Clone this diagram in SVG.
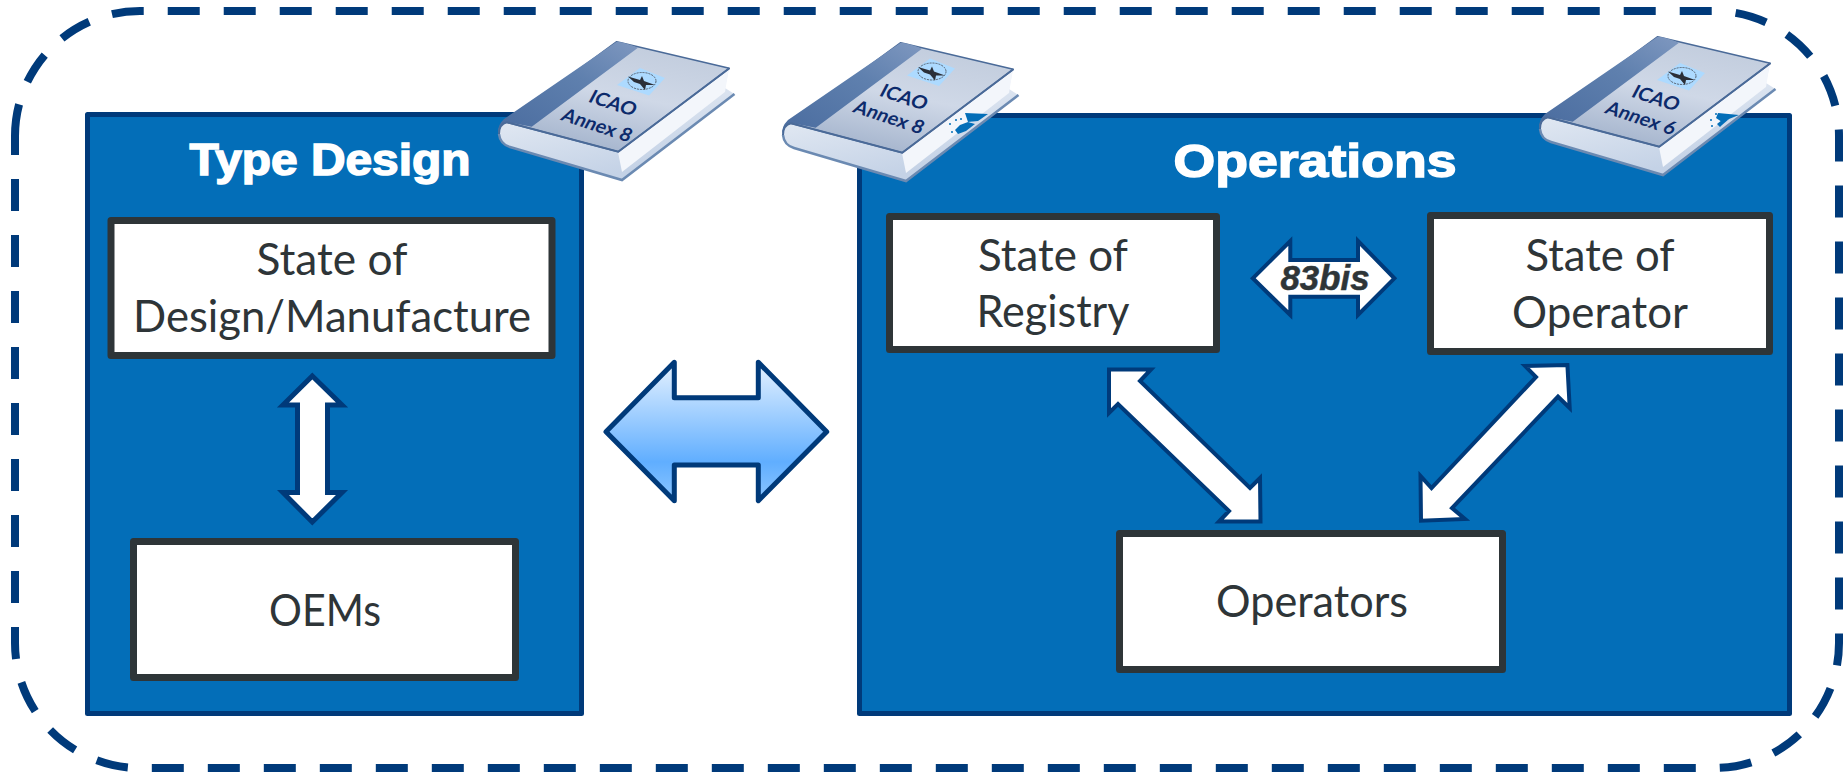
<svg xmlns="http://www.w3.org/2000/svg" xmlns:xlink="http://www.w3.org/1999/xlink" width="1847" height="773" viewBox="0 0 1847 773">
<style>
.panel{fill:#036eb8;stroke:#003a7a;stroke-width:5;stroke-linejoin:round}
.box{fill:#fff;stroke:#2e3538;stroke-width:7;stroke-linejoin:round}
.lbl{font-family:"Lato","Carlito","Liberation Sans",sans-serif;font-size:45px;fill:#2e3538;text-anchor:middle}
.ttl{font-family:"Liberation Sans",Arial,sans-serif;font-weight:700;fill:#fff;stroke:#fff;stroke-width:1.5;text-anchor:middle}
.dbl{fill:#fff;stroke:#003a7a;stroke-linejoin:miter}
.bk{font-family:"Lato","Liberation Sans",sans-serif;font-weight:700;font-size:20px;fill:#0c2a6b;text-anchor:middle}
</style>
<defs>
<linearGradient id="gArrow" x1="0" y1="0" x2="0" y2="1">
<stop offset="0" stop-color="#e6f2ff"/><stop offset="0.72" stop-color="#60aeff"/><stop offset="1" stop-color="#8cc6ff"/>
</linearGradient>
<linearGradient id="gCover" x1="0.35" y1="1" x2="0.75" y2="0">
<stop offset="0" stop-color="#a3b3cc"/><stop offset="0.5" stop-color="#cfd8e7"/><stop offset="1" stop-color="#c0cbdc"/>
</linearGradient>
<linearGradient id="gSpine" x1="0" y1="1" x2="1" y2="0">
<stop offset="0" stop-color="#4a6c9f"/><stop offset="0.6" stop-color="#5f80ae"/><stop offset="1" stop-color="#7f98c0"/>
</linearGradient>
<linearGradient id="gPage" x1="0" y1="0" x2="0.35" y2="1">
<stop offset="0" stop-color="#ffffff"/><stop offset="1" stop-color="#c4d2e6"/>
</linearGradient>
<g id="book">
<path d="M507,122 Q497,124 499,134 Q500,144 510,147 L622,180 L734.500,94 L725,88 L729,68 L617,42 Z" fill="url(#gPage)"/>
<path d="M622,172 L725,92 L729,68 L618,152 Z" fill="#f3f6fb"/>
<path d="M499,134 Q500,144 510,147 L622,180 L734.500,94" fill="none" stroke="#6b8ab2" stroke-width="2.500"/>
<path d="M616.700,41.700 L729.300,68.300 L618.300,151.700 L506.700,122.300 Z" fill="url(#gCover)" stroke="#4a6a98" stroke-width="1.500" stroke-linejoin="round"/>
<path d="M616.700,41.700 Q625,42 638,47.700 L531.700,126.700 L507,122 Q500,124 498.500,133 Q497,126 504,119 Z" fill="url(#gSpine)"/>
<path d="M499,134 Q499,124 507,122.300 L618.300,151.700 L729.300,68.300" fill="none" stroke="#4a6a98" stroke-width="2"/>
</g>
<g id="logo">
<path d="M640,68 L665,78 L649,95.500 L617,85 Z" fill="#addaff"/>
<ellipse cx="642" cy="81" rx="14" ry="8.500" fill="none" stroke="#56606e" stroke-width="1" stroke-dasharray="2 1"/>
<path d="M628,76.500 L640,80 L642,76 L644,81 L655,85 L646,85 L645,90 L640,84 L634,82 Z" fill="#2b2f38"/>
</g>
</defs>

<path id="frame" d="M15,136 A125,125 0 0 1 140,11 H1714 A125,125 0 0 1 1839,136 V643 A125,125 0 0 1 1714,768 H140 A125,125 0 0 1 15,643 Z" fill="none" stroke="#003a7a" stroke-width="8" stroke-dasharray="32 24"/>

<g id="type-design">
<rect class="panel" x="87.500" y="114.500" width="494" height="599"/>
<text class="ttl" x="330" y="175" font-size="44" textLength="281" lengthAdjust="spacingAndGlyphs">Type Design</text>
</g>
<g id="operations">
<rect class="panel" x="859.500" y="115.500" width="930" height="598"/>
<text class="ttl" x="1315" y="177" font-size="47" textLength="283" lengthAdjust="spacingAndGlyphs">Operations</text>
</g>

<g id="state-of-design">
<rect class="box" x="111" y="220.500" width="441" height="135"/>
<text class="lbl" x="332" y="275" textLength="151" lengthAdjust="spacingAndGlyphs">State of</text>
<text class="lbl" x="332" y="332" textLength="398" lengthAdjust="spacingAndGlyphs">Design/Manufacture</text>
</g>
<g id="oems">
<rect class="box" x="133.500" y="541.500" width="382" height="136"/>
<text class="lbl" x="325" y="626" textLength="112" lengthAdjust="spacingAndGlyphs">OEMs</text>
</g>
<g id="state-of-registry">
<rect class="box" x="889.500" y="216.500" width="327" height="133"/>
<text class="lbl" x="1053" y="271" textLength="150" lengthAdjust="spacingAndGlyphs">State of</text>
<text class="lbl" x="1053" y="327" textLength="153" lengthAdjust="spacingAndGlyphs">Registry</text>
</g>
<g id="state-of-operator">
<rect class="box" x="1430.500" y="215.500" width="339" height="136"/>
<text class="lbl" x="1600" y="271" textLength="149" lengthAdjust="spacingAndGlyphs">State of</text>
<text class="lbl" x="1600" y="328" textLength="176" lengthAdjust="spacingAndGlyphs">Operator</text>
</g>
<g id="operators">
<rect class="box" x="1119.500" y="533.500" width="383" height="136"/>
<text class="lbl" x="1312" y="617" textLength="192" lengthAdjust="spacingAndGlyphs">Operators</text>
</g>

<g id="connectors">
<polygon id="arrow-main" points="606,431.700 674.300,362.300 674.300,397.700 758.300,397.700 758.300,362.300 826.700,431.700 758.300,500.700 758.300,465 674.300,465 674.300,500.700" fill="url(#gArrow)" stroke="#003a7a" stroke-width="5" stroke-linejoin="round"/>
<polygon id="arrow-design" class="dbl" stroke-width="5" points="312.300,376 342,405 327.500,405 327.500,492.500 342,492.500 312.300,522 283,492.500 297.500,492.500 297.500,405 283,405"/>
<polygon id="arrow-83bis" class="dbl" stroke-width="4" stroke-linejoin="round" points="1252.800,278.300 1290.300,241 1290.300,260 1358,260 1358,241 1394.400,278.300 1358,315 1358,296.700 1290.300,296.700 1290.300,315"/>
<polygon id="arrow-registry" class="dbl" stroke-width="4" points="1109,369.500 1151,369.500 1140,381 1250,488 1260,478 1260.500,521.500 1219,521.500 1229,511 1118,404 1109,413"/>
<polygon id="arrow-operator" class="dbl" stroke-width="4" points="1567.400,365 1525,366 1536,377 1431.500,488 1420.500,476 1421,520.700 1465,519 1452,508 1558,396.700 1569.700,408"/>
</g>
<text id="label-83bis" x="1325" y="290" font-family="Liberation Sans,Arial,sans-serif" font-weight="700" font-style="italic" font-size="35" fill="#2e3538" stroke="#2e3538" stroke-width="0.5" text-anchor="middle" textLength="89" lengthAdjust="spacingAndGlyphs">83bis</text>

<g id="book-type-design">
<use xlink:href="#book" href="#book"/>
<use xlink:href="#logo" href="#logo"/>
<g class="bk">
<text transform="matrix(.95 .31 -.45 .85 610 109)" textLength="48" lengthAdjust="spacingAndGlyphs">ICAO</text>
<text transform="matrix(.95 .31 -.45 .85 594 131)" textLength="72" lengthAdjust="spacingAndGlyphs">Annex 8</text>
</g>
</g>
<g id="book-airworthiness">
<use xlink:href="#book" href="#book" x="284" y="1"/>
<use xlink:href="#logo" href="#logo" x="290" y="-9.500"/>
<g fill="#036eb8">
<polygon points="965,113 988,114 978,121 968,122"/>
<polygon points="968,122 975,124 966,131 958,134 955,130 960,125"/>
<circle cx="950" cy="124" r="1"/><circle cx="956" cy="120" r="1"/><circle cx="961" cy="119" r="1"/><circle cx="952" cy="132" r="1"/>
</g>
<g class="bk">
<text transform="matrix(.95 .31 -.45 .85 901 103)" textLength="48" lengthAdjust="spacingAndGlyphs">ICAO</text>
<text transform="matrix(.95 .31 -.45 .85 886 123)" textLength="72" lengthAdjust="spacingAndGlyphs">Annex 8</text>
</g>
</g>
<g id="book-operations">
<use xlink:href="#book" href="#book" x="1041" y="-5"/>
<use xlink:href="#logo" href="#logo" x="1040" y="-5"/>
<g fill="#036eb8">
<polygon points="1718,113 1739,115 1729,119 1722,122 1716,118"/>
<polygon points="1722,120 1729,119 1722,125 1720,127 1717,124"/>
<circle cx="1711" cy="120" r="1"/><circle cx="1716" cy="114" r="1"/><circle cx="1712" cy="126" r="1"/>
</g>
<g class="bk">
<text transform="matrix(.95 .31 -.45 .85 1653 104)" textLength="48" lengthAdjust="spacingAndGlyphs">ICAO</text>
<text transform="matrix(.95 .31 -.45 .85 1638 124)" textLength="72" lengthAdjust="spacingAndGlyphs">Annex 6</text>
</g>
</g>
</svg>
